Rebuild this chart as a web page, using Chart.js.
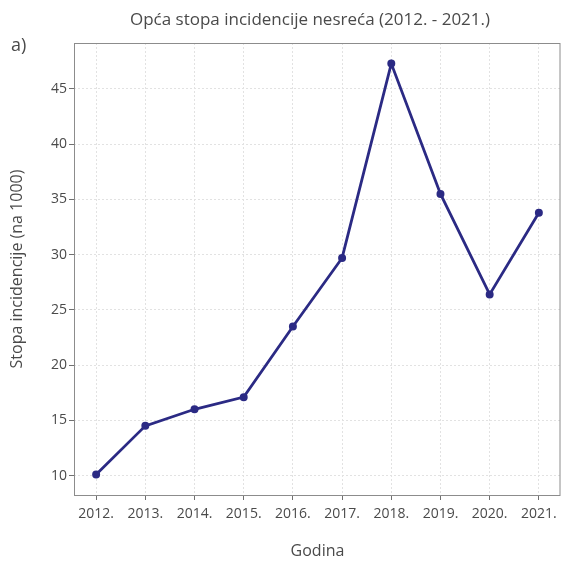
<!DOCTYPE html>
<html>
<head>
<meta charset="utf-8">
<script src="https://cdn.jsdelivr.net/npm/chart.js@4"></script>
<style>
  html, body { margin: 0; padding: 0; background: #fff; }
  #wrap { width: 561px; height: 561px; }
</style>
</head>
<body>
<div id="wrap"><canvas id="chart" width="561" height="561"></canvas></div>
<script>
const years = [2012, 2013, 2014, 2015, 2016, 2017, 2018, 2019, 2020, 2021];
const incidence = [10.1, 14.5, 16.0, 17.1, 23.5, 29.7, 47.3, 35.5, 26.4, 33.8];
const yTicks = [10, 15, 20, 25, 30, 35, 40, 45];
const chartTitle = 'Opća stopa incidencije nesreća (2012. - 2021.)';
const panelLabel = 'a)';

const FONT = "'Open Sans', sans-serif";
const TEXT = '#4a4a4a';

// ggplot style 5% padding on both axes
function expand(lo, hi) {
  const d = (hi - lo) * 0.05;
  return [lo - d, hi + d];
}
const [xMin, xMax] = expand(years[0], years[years.length - 1]);
const [yMin, yMax] = expand(Math.min(...incidence), Math.max(...incidence));

// panel border, main title and the "a)" tag
const decor = {
  id: 'decor',
  afterDraw(chart) {
    const { ctx, chartArea: a } = chart;
    ctx.save();
    ctx.strokeStyle = '#8c8c8c';
    ctx.lineWidth = 1;
    ctx.strokeRect(a.left + 0.5, a.top + 0.5, a.right - a.left - 1.5, a.bottom - a.top);
    ctx.fillStyle = TEXT;
    ctx.textBaseline = 'middle';
    ctx.textAlign = 'center';
    ctx.font = '17px ' + FONT;
    ctx.fillText(chartTitle, 310, 20);
    ctx.textAlign = 'left';
    ctx.font = '18px ' + FONT;
    ctx.fillText(panelLabel, 11, 46);
    ctx.restore();
  }
};

const gridOpts = {
  color: '#e2e2e2',
  tickLength: 5,
  tickColor: '#707070',
  tickBorderDash: [],
  tickWidth: 1
};

new Chart(document.getElementById('chart'), {
  type: 'line',
  data: {
    datasets: [{
      data: years.map((y, i) => ({ x: y, y: incidence[i] })),
      borderColor: '#2b2a84',
      backgroundColor: '#2b2a84',
      borderWidth: 2.8,
      pointRadius: 2.6,
      pointHoverRadius: 2.6,
      tension: 0
    }]
  },
  options: {
    responsive: false,
    animation: false,
    layout: { autoPadding: false, padding: { top: 43, left: 0, right: 0, bottom: 0 } },
    plugins: {
      legend: { display: false },
      tooltip: { enabled: false }
    },
    scales: {
      x: {
        type: 'linear',
        min: xMin,
        max: xMax,
        afterBuildTicks: (s) => { s.ticks = years.map(v => ({ value: v })); },
        afterFit: (s) => { s.height = 66; s.paddingLeft = 0; s.paddingRight = 0; },
        ticks: {
          callback: (v) => v + '.',
          color: TEXT,
          font: { family: FONT, size: 14 },
          padding: 6,
          maxRotation: 0,
          autoSkip: false
        },
        grid: gridOpts,
        border: { display: false, dash: [2, 2] },
        title: {
          display: true,
          text: 'Godina',
          color: TEXT,
          font: { family: FONT, size: 16 },
          padding: { top: 0, bottom: 0 }
        }
      },
      y: {
        min: yMin,
        max: yMax,
        afterBuildTicks: (s) => { s.ticks = yTicks.map(v => ({ value: v })); },
        afterFit: (s) => { s.width = 74; s.paddingTop = 0; s.paddingBottom = 0; },
        ticks: {
          color: TEXT,
          font: { family: FONT, size: 14 },
          padding: 2
        },
        grid: gridOpts,
        border: { display: false, dash: [2, 2] },
        title: {
          display: true,
          text: 'Stopa incidencije (na 1000)',
          color: TEXT,
          font: { family: FONT, size: 16 },
          padding: { top: 8, bottom: 0 }
        }
      }
    }
  },
  plugins: [decor]
});
</script>
</body>
</html>
